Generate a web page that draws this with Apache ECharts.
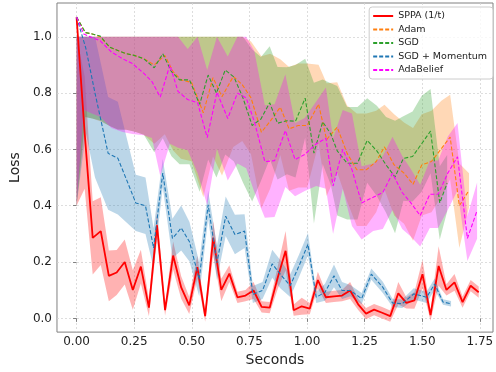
<!DOCTYPE html>
<html>
<head>
<meta charset="utf-8">
<script src="https://cdn.jsdelivr.net/npm/echarts@6/dist/echarts.min.js"></script>
<style>
  html, body { margin: 0; padding: 0; background: #fff; }
  #chart { width: 496px; height: 372px; }
</style>
</head>
<body>
<div id="chart"></div>
<script>
// tick labels
const xTicks = [0, 0.25, 0.5, 0.75, 1.0, 1.25, 1.5, 1.75];
const yTicks = [0, 0.2, 0.4, 0.6, 0.8, 1.0];

// SPPA (1/t)
const sppaTime = [0, 0.035, 0.07, 0.105, 0.14, 0.174, 0.209, 0.244, 0.279, 0.314, 0.349, 0.384, 0.419, 0.454, 0.489, 0.524, 0.558, 0.593, 0.628, 0.663, 0.698, 0.733, 0.768, 0.803, 0.838, 0.873, 0.907, 0.942, 0.977, 1.012, 1.047, 1.082, 1.117, 1.152, 1.187, 1.222, 1.256, 1.291, 1.326, 1.361, 1.396, 1.431, 1.466, 1.501, 1.536, 1.571, 1.605, 1.640, 1.675, 1.710, 1.745];
const sppaLoss = [1.07, 0.66, 0.286, 0.31, 0.151, 0.163, 0.20, 0.101, 0.184, 0.038, 0.33, 0.029, 0.223, 0.11, 0.046, 0.182, 0.008, 0.286, 0.101, 0.159, 0.075, 0.081, 0.099, 0.041, 0.038, 0.145, 0.24, 0.029, 0.043, 0.035, 0.136, 0.075, 0.078, 0.081, 0.099, 0.05, 0.017, 0.031, 0.02, 0.008, 0.089, 0.055, 0.064, 0.157, 0.012, 0.186, 0.101, 0.128, 0.058, 0.116, 0.093];
const sppaSpread = [0.67, 0.2, 0.13, 0.12, 0.09, 0.08, 0.08, 0.07, 0.06, 0.03, 0.05, 0.02, 0.05, 0.04, 0.03, 0.04, 0.02, 0.06, 0.04, 0.03, 0.02, 0.02, 0.03, 0.02, 0.02, 0.04, 0.07, 0.02, 0.03, 0.02, 0.03, 0.02, 0.02, 0.02, 0.03, 0.02, 0.02, 0.02, 0.02, 0.02, 0.04, 0.02, 0.03, 0.05, 0.02, 0.07, 0.02, 0.03, 0.02, 0.02, 0.02];

// Adam
const adamTime = [0, 0.038, 0.068, 0.102, 0.144, 0.179, 0.215, 0.250, 0.292, 0.337, 0.383, 0.419, 0.453, 0.499, 0.550, 0.592, 0.631, 0.680, 0.719, 0.757, 0.802, 0.840, 0.884, 0.922, 0.962, 1.001, 1.050, 1.085, 1.131, 1.174, 1.216, 1.258, 1.300, 1.336, 1.378, 1.421, 1.460, 1.498, 1.540, 1.583, 1.621, 1.661, 1.703];
const adamLoss = [1.07, 1.015, 1.01, 1.0, 0.963, 0.951, 0.94, 0.934, 0.922, 0.90, 0.934, 0.876, 0.847, 0.838, 0.73, 0.855, 0.787, 0.859, 0.83, 0.783, 0.661, 0.70, 0.75, 0.673, 0.685, 0.685, 0.761, 0.635, 0.679, 0.586, 0.528, 0.528, 0.557, 0.609, 0.545, 0.516, 0.476, 0.545, 0.557, 0.603, 0.644, 0.40, 0.455];
const adamSpread = [0.67, 0.3, 0.3, 0.3, 0.28, 0.28, 0.27, 0.27, 0.27, 0.28, 0.28, 0.28, 0.28, 0.28, 0.3, 0.28, 0.28, 0.25, 0.2, 0.2, 0.27, 0.24, 0.17, 0.22, 0.22, 0.22, 0.14, 0.2, 0.16, 0.17, 0.2, 0.2, 0.18, 0.15, 0.18, 0.18, 0.2, 0.18, 0.18, 0.17, 0.15, 0.15, 0.06];

// SGD
const sgdTime = [0, 0.038, 0.068, 0.102, 0.144, 0.179, 0.215, 0.250, 0.292, 0.337, 0.374, 0.412, 0.447, 0.490, 0.534, 0.571, 0.607, 0.645, 0.683, 0.722, 0.762, 0.800, 0.838, 0.872, 0.913, 0.950, 0.992, 1.030, 1.068, 1.103, 1.131, 1.174, 1.219, 1.261, 1.303, 1.343, 1.382, 1.418, 1.458, 1.498, 1.536, 1.576, 1.608];
const sgdLoss = [1.07, 1.015, 1.01, 1.003, 0.963, 0.951, 0.94, 0.934, 0.922, 0.89, 0.94, 0.876, 0.847, 0.847, 0.76, 0.864, 0.80, 0.882, 0.857, 0.783, 0.685, 0.708, 0.766, 0.693, 0.702, 0.70, 0.782, 0.587, 0.698, 0.655, 0.595, 0.551, 0.551, 0.632, 0.595, 0.545, 0.502, 0.568, 0.575, 0.621, 0.665, 0.41, 0.48];
const sgdSpread = [0.67, 0.3, 0.3, 0.3, 0.28, 0.28, 0.27, 0.27, 0.27, 0.3, 0.3, 0.3, 0.3, 0.3, 0.31, 0.3, 0.3, 0.3, 0.3, 0.3, 0.27, 0.22, 0.2, 0.2, 0.19, 0.2, 0.14, 0.25, 0.15, 0.18, 0.23, 0.2, 0.2, 0.15, 0.16, 0.17, 0.2, 0.15, 0.16, 0.17, 0.15, 0.13, 0.1];

// SGD + Momentum
const momTime = [0, 0.040, 0.080, 0.137, 0.179, 0.218, 0.257, 0.299, 0.334, 0.374, 0.416, 0.454, 0.490, 0.532, 0.571, 0.609, 0.647, 0.687, 0.729, 0.765, 0.807, 0.849, 0.884, 0.927, 0.965, 1.004, 1.040, 1.078, 1.117, 1.152, 1.188, 1.237, 1.279, 1.329, 1.371, 1.413, 1.463, 1.519, 1.554, 1.590, 1.625];
const momLoss = [1.07, 0.96, 0.80, 0.586, 0.569, 0.49, 0.41, 0.40, 0.25, 0.516, 0.284, 0.321, 0.272, 0.139, 0.403, 0.197, 0.363, 0.298, 0.31, 0.085, 0.099, 0.194, 0.157, 0.116, 0.186, 0.263, 0.075, 0.093, 0.151, 0.099, 0.099, 0.07, 0.157, 0.11, 0.055, 0.052, 0.087, 0.075, 0.122, 0.058, 0.052];
const momSpread = [0.67, 0.3, 0.3, 0.2, 0.2, 0.15, 0.1, 0.1, 0.07, 0.05, 0.07, 0.08, 0.07, 0.06, 0.05, 0.06, 0.07, 0.07, 0.06, 0.03, 0.03, 0.05, 0.05, 0.04, 0.04, 0.04, 0.02, 0.03, 0.04, 0.03, 0.02, 0.02, 0.02, 0.02, 0.015, 0.015, 0.02, 0.02, 0.02, 0.01, 0.01];

// AdaBelief
const adaTime = [0, 0.031, 0.066, 0.102, 0.151, 0.200, 0.242, 0.292, 0.327, 0.363, 0.405, 0.440, 0.482, 0.525, 0.567, 0.609, 0.656, 0.698, 0.736, 0.771, 0.817, 0.859, 0.906, 0.948, 0.990, 1.040, 1.082, 1.113, 1.155, 1.195, 1.237, 1.287, 1.329, 1.371, 1.413, 1.449, 1.491, 1.533, 1.569, 1.611, 1.653, 1.696, 1.738];
const adaLoss = [1.07, 1.01, 0.998, 0.986, 0.946, 0.922, 0.905, 0.87, 0.841, 0.786, 0.90, 0.806, 0.777, 0.766, 0.642, 0.803, 0.71, 0.80, 0.783, 0.70, 0.557, 0.56, 0.667, 0.564, 0.582, 0.62, 0.64, 0.47, 0.60, 0.528, 0.41, 0.43, 0.447, 0.515, 0.447, 0.412, 0.365, 0.441, 0.441, 0.516, 0.574, 0.284, 0.383];
const adaSpread = [0.67, 0.27, 0.27, 0.27, 0.27, 0.26, 0.25, 0.22, 0.2, 0.28, 0.28, 0.2, 0.18, 0.25, 0.24, 0.2, 0.22, 0.25, 0.25, 0.25, 0.2, 0.2, 0.2, 0.13, 0.13, 0.15, 0.18, 0.17, 0.14, 0.2, 0.13, 0.12, 0.13, 0.13, 0.13, 0.12, 0.11, 0.12, 0.12, 0.13, 0.12, 0.08, 0.1];

const FONT = 'DejaVu Sans';

const runs = [
  { name: 'SPPA (1/t)', t: sppaTime, loss: sppaLoss, spread: sppaSpread, color: '#ff0000', band: 'rgba(255,0,0,0.3)', dashed: false },
  { name: 'Adam', t: adamTime, loss: adamLoss, spread: adamSpread, color: '#ff7f0e', band: 'rgba(255,127,14,0.3)', dashed: true },
  { name: 'SGD', t: sgdTime, loss: sgdLoss, spread: sgdSpread, color: '#2ca02c', band: 'rgba(44,160,44,0.3)', dashed: true },
  { name: 'SGD + Momentum', t: momTime, loss: momLoss, spread: momSpread, color: '#1f77b4', band: 'rgba(31,119,180,0.3)', dashed: true },
  { name: 'AdaBelief', t: adaTime, loss: adaLoss, spread: adaSpread, color: '#ff00ff', band: 'rgba(255,0,255,0.3)', dashed: true }
];

// shaded spread, upper edge cut at 1.0 like the original
function bandSeries(r) {
  return {
    type: 'custom',
    name: r.name + ' spread',
    silent: true,
    clip: true,
    z: 1,
    data: [[r.t[0], r.loss[0]]],
    renderItem: function (params, api) {
      const top = [];
      const bottom = [];
      for (let i = 0; i < r.t.length; i++) {
        top.push(api.coord([r.t[i], Math.min(1, r.loss[i] + r.spread[i])]));
        bottom.push(api.coord([r.t[i], r.loss[i] - r.spread[i]]));
      }
      return {
        type: 'polygon',
        shape: { points: top.concat(bottom.reverse()) },
        style: { fill: r.band }
      };
    }
  };
}

function lineSeries(r) {
  return {
    type: 'line',
    name: r.name,
    data: r.t.map((x, i) => [x, r.loss[i]]),
    symbol: 'none',
    showSymbol: false,
    z: 3,
    color: r.color,
    lineStyle: r.dashed
      ? { color: r.color, width: 1.1, type: [4, 2] }
      : { color: r.color, width: 1.8 }
  };
}

const series = [];
runs.forEach(r => series.push(bandSeries(r)));
runs.forEach(r => series.push(lineSeries(r)));

const chart = echarts.init(document.getElementById('chart'), null, { renderer: 'canvas' });
chart.setOption({
  animation: false,
  textStyle: { fontFamily: FONT },
  grid: {
    left: 46, right: 3, top: 3, bottom: 33,
    show: true, borderColor: '#808080', borderWidth: 1, backgroundColor: 'transparent'
  },
  legend: {
    data: runs.map(r => r.name),
    orient: 'vertical',
    right: 3, top: 7,
    itemWidth: 20, itemHeight: 10, itemGap: 3.5,
    itemStyle: { opacity: 0 },
    textStyle: { fontSize: 9.5, color: '#222', fontFamily: FONT },
    backgroundColor: 'rgba(255,255,255,0.8)',
    borderColor: '#cccccc', borderWidth: 1, borderRadius: 3,
    padding: [4, 6, 4, 3]
  },
  xAxis: {
    type: 'value', min: -0.085, max: 1.807,
    name: 'Seconds', nameLocation: 'middle', nameGap: 20,
    nameTextStyle: { fontSize: 14, color: '#222', fontFamily: FONT },
    axisLine: { show: false },
    axisTick: { show: true, customValues: xTicks, length: 3.5, lineStyle: { color: '#808080' } },
    axisLabel: { customValues: xTicks, formatter: v => v.toFixed(2), fontSize: 12, color: '#222', fontFamily: FONT, margin: 4 },
    splitLine: { show: true, lineStyle: { type: [2, 2], color: '#d5d5d5', width: 0.8 } }
  },
  yAxis: {
    type: 'value', min: -0.0487, max: 1.12,
    name: 'Loss', nameLocation: 'middle', nameGap: 28, nameRotate: 90,
    nameTextStyle: { fontSize: 14, color: '#222', fontFamily: FONT },
    axisLine: { show: false },
    axisTick: { show: true, customValues: yTicks, length: 3.5, lineStyle: { color: '#808080' } },
    axisLabel: { customValues: yTicks, formatter: v => v.toFixed(1), fontSize: 12, color: '#222', fontFamily: FONT, margin: 5 },
    splitLine: { show: true, lineStyle: { type: [2, 2], color: '#d5d5d5', width: 0.8 } }
  },
  series: series
});
</script>
</body>
</html>
